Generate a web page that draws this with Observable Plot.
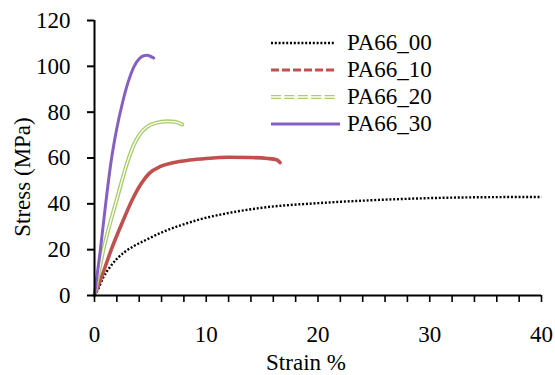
<!DOCTYPE html>
<html>
<head>
<meta charset="utf-8">
<script src="https://cdn.jsdelivr.net/npm/d3@7"></script>
<script src="https://cdn.jsdelivr.net/npm/@observablehq/plot@0.6"></script>
<style>
  body { margin: 0; background: #fff; }
  #wrap { position: relative; width: 555px; height: 375px; font-family: 'Liberation Serif'; }
  #legend { position: absolute; left: 271px; top: 29px; font-family: 'Liberation Serif'; }
  .row { display: flex; align-items: center; height: 27.2px; font-size: 23px; color: #000; }
  .row svg { width: 69px; height: 10px; margin-right: 7px; }
</style>
</head>
<body>
<div id="wrap"></div>
<script>
// ---- data ----
const seriesNames = ["PA66_00", "PA66_10", "PA66_20", "PA66_30"];

const pa66_00_strain = [0, 0.25, 0.8, 1.4, 2.0, 2.7, 3.5, 4.5, 6, 7.7, 9.5, 12, 15, 20, 25, 30, 35, 40];
const pa66_00_stress = [0, 2, 8, 12.5, 16, 19, 21.5, 24, 27.5, 30.6, 33.3, 36, 38.3, 40.3, 41.6, 42.5, 42.9, 43];

const pa66_10_strain = [0, 0.7, 1.5, 2.5, 3.4, 4.2, 4.9, 5.9, 7, 8.5, 10, 12, 14, 15.5, 16.3, 16.6];
const pa66_10_stress = [0, 9, 20, 32, 42, 49, 53.3, 56.3, 57.9, 59.1, 59.8, 60.3, 60.2, 59.8, 59.2, 58];

const pa66_20_strain = [0, 0.8, 2.0, 3.0, 3.5, 4.0, 4.7, 5.5, 6.5, 7.2, 7.85];
const pa66_20_stress = [0, 20, 42, 59, 65.5, 70, 73.6, 75.3, 76, 75.8, 74.6];

const pa66_30_strain = [0, 0.5, 1.0, 1.5, 2.0, 2.5, 3.0, 3.5, 4.0, 4.4, 4.7, 5.0, 5.3];
const pa66_30_stress = [0, 19, 40, 59, 73, 84, 93, 99.5, 103.3, 104.6, 104.8, 104.4, 103.6];

const xTicks = [0, 2, 4, 6, 8, 10, 12, 14, 16, 18, 20, 22, 24, 26, 28, 30, 32, 34, 36, 38, 40];
const xTickLabels = [0, 10, 20, 30, 40];
const yTicks = [0, 20, 40, 60, 80, 100, 120];
const xTitle = "Strain %";
const yTitle = "Stress (MPa)";

// ---- build tables ----
const zip = (xs, ys) => xs.map((x, i) => ({x, y: ys[i]}));
const s00 = zip(pa66_00_strain, pa66_00_stress);
const s10 = zip(pa66_10_strain, pa66_10_stress);
const s20 = zip(pa66_20_strain, pa66_20_stress);
const s30 = zip(pa66_30_strain, pa66_30_stress);

const colors = {black: "#000000", red: "#c0504d", green: "#aacd6e", purple: "#8560c0"};
const curve = "monotone-x";

const chart = Plot.plot({
  width: 555,
  height: 375,
  marginLeft: 94,
  marginRight: 14,
  marginTop: 20,
  marginBottom: 80,
  style: "font-family: 'Liberation Serif'; font-size: 23px; color: #000; background: #fff;",
  x: {domain: [0, 40]},
  y: {domain: [0, 120]},
  marks: [
    Plot.line(s00, {x: "x", y: "y", curve, stroke: colors.black, strokeWidth: 2.4, strokeDasharray: "2,1.8", strokeLinecap: "butt"}),
    Plot.line(s10, {x: "x", y: "y", curve, stroke: colors.red, strokeWidth: 3.6}),
    Plot.line(s20, {x: "x", y: "y", curve, stroke: colors.green, strokeWidth: 4}),
    Plot.line(s20, {x: "x", y: "y", curve, stroke: "#fff", strokeWidth: 1.3}),
    Plot.line(s30, {x: "x", y: "y", curve, stroke: colors.purple, strokeWidth: 3}),
    Plot.ruleX([0], {stroke: "#000", strokeWidth: 2}),
    Plot.ruleY([0], {stroke: "#000", strokeWidth: 2}),
    Plot.axisY({ticks: yTicks, tickSize: 7, tickPadding: 17, label: null, strokeWidth: 2}),
    Plot.axisX({ticks: xTicks, tickFormat: d => xTickLabels.includes(d) ? String(d) : "", tickSize: 7, tickPadding: 23, label: null, strokeWidth: 1.6}),
    Plot.text([xTitle], {frameAnchor: "bottom", textAnchor: "middle", lineAnchor: "middle", text: d => d, dx: -12, dy: 67}),
    Plot.text([yTitle], {frameAnchor: "left", textAnchor: "middle", lineAnchor: "middle", text: d => d, rotate: -90, dx: -72, dy: 19})
  ]
});

const wrap = document.getElementById("wrap");
wrap.appendChild(chart);
// force the serif face on every text of the chart
chart.querySelectorAll("text, g").forEach(el => {
  el.removeAttribute("font-family");
  el.removeAttribute("font-size");
  el.style.fontFamily = "'Liberation Serif'";
  el.style.fontSize = "23px";
});

// ---- legend (HTML overlay) ----
const legendStyles = [
  {stroke: colors.black, w: 2.4, dash: "2,1.8", len: 64},
  {stroke: colors.red, w: 3.2, dash: "8,3", len: 65},
  {stroke: colors.green, w: 4, dash: "10,3.4", len: 67, inner: true},
  {stroke: colors.purple, w: 3, dash: null, len: 69}
];
const legend = document.createElement("div");
legend.id = "legend";
seriesNames.forEach((name, i) => {
  const st = legendStyles[i];
  const row = document.createElement("div");
  row.className = "row";
  let svg = `<svg viewBox="0 0 69 10"><line x1="0" x2="${st.len}" y1="5" y2="5" stroke="${st.stroke}" stroke-width="${st.w}" ${st.dash ? `stroke-dasharray="${st.dash}"` : ""}/>`;
  if (st.inner) svg += `<line x1="0" x2="${st.len}" y1="5" y2="5" stroke="#fff" stroke-width="1.3"/>`;
  svg += `</svg>`;
  row.innerHTML = svg + `<span>${name}</span>`;
  legend.appendChild(row);
});
wrap.appendChild(legend);
</script>
</body>
</html>
